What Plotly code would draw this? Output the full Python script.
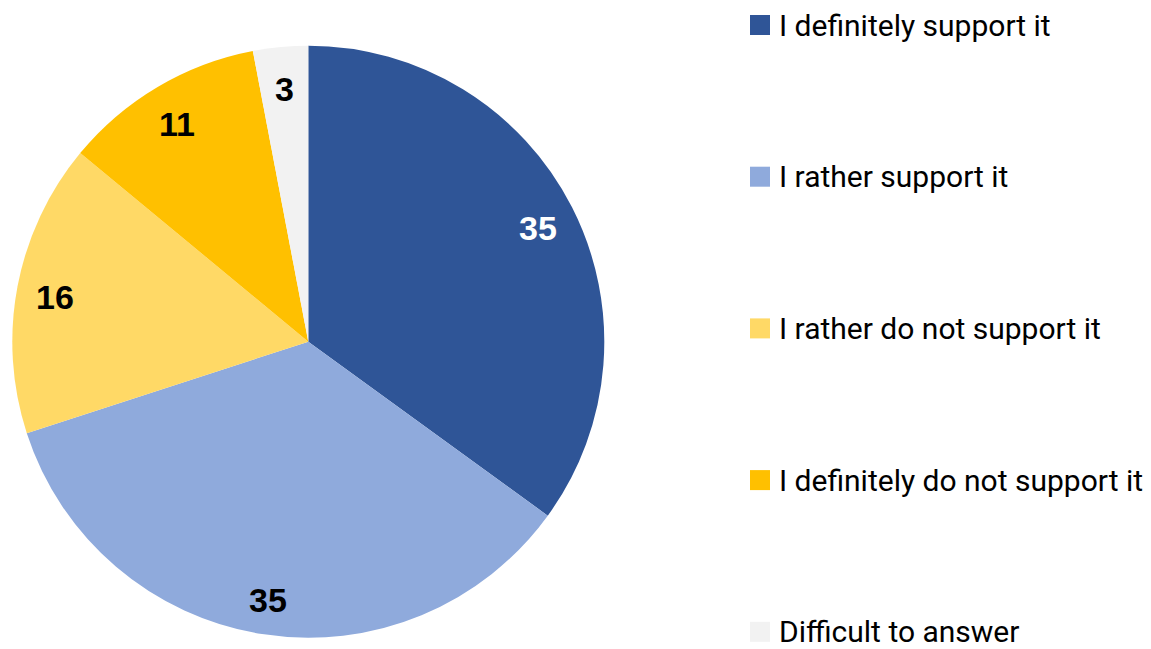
import math
import plotly.graph_objects as go

categories = ["I definitely support it", "I rather support it", "I rather do not support it",
              "I definitely do not support it", "Difficult to answer"]
values = [35, 35, 16, 11, 3]
colors = ["#2F5597", "#8FAADC", "#FFD966", "#FFC000", "#F2F2F2"]
label_colors = ["white", "black", "black", "black", "black"]

W, H = 1151, 649
cx, cy, R = 308.3, 341.7, 296.0

fig = go.Figure()
fig.add_trace(go.Pie(
    labels=categories, values=values, sort=False, direction="clockwise", rotation=0,
    marker=dict(colors=colors, line=dict(width=0)),
    textinfo="none", hoverinfo="label+value", showlegend=False,
    domain=dict(x=[(cx - R) / W, (cx + R) / W], y=[(H - cy - R) / H, (H - cy + R) / H]),
))

annotations = []
total = sum(values)
cum = 0
for v, c in zip(values, label_colors):
    mid = (cum + v / 2) / total * 2 * math.pi
    cum += v
    f = 0.87
    x = cx + f * R * math.sin(mid)
    y = cy - f * R * math.cos(mid) + 3.5
    annotations.append(dict(x=x / W, y=1 - y / H, xref="paper", yref="paper", text=f"<b>{v}</b>",
                            showarrow=False, font=dict(family="Liberation Sans", size=34, color=c),
                            xanchor="center", yanchor="middle"))

shapes = []
leg_y0, leg_dy = 25.0, 151.7
for i, (name, col) in enumerate(zip(categories, colors)):
    yc = leg_y0 + i * leg_dy
    shapes.append(dict(type="rect", xref="paper", yref="paper", x0=750 / W, x1=770 / W,
                       y0=1 - (yc + 10) / H, y1=1 - (yc - 10) / H, fillcolor=col, line=dict(width=0)))
    annotations.append(dict(x=777 / W, y=1 - yc / H, xref="paper", yref="paper", text=name,
                            showarrow=False, xanchor="left", yanchor="middle",
                            font=dict(family="Roboto", size=30, color="black")))

fig.update_layout(width=W, height=H, margin=dict(l=0, r=0, t=0, b=0),
                  paper_bgcolor="white", plot_bgcolor="white",
                  annotations=annotations, shapes=shapes)
fig.write_html("out.html", config={"displayModeBar": False},
               post_script="document.body.style.margin='0px';")
